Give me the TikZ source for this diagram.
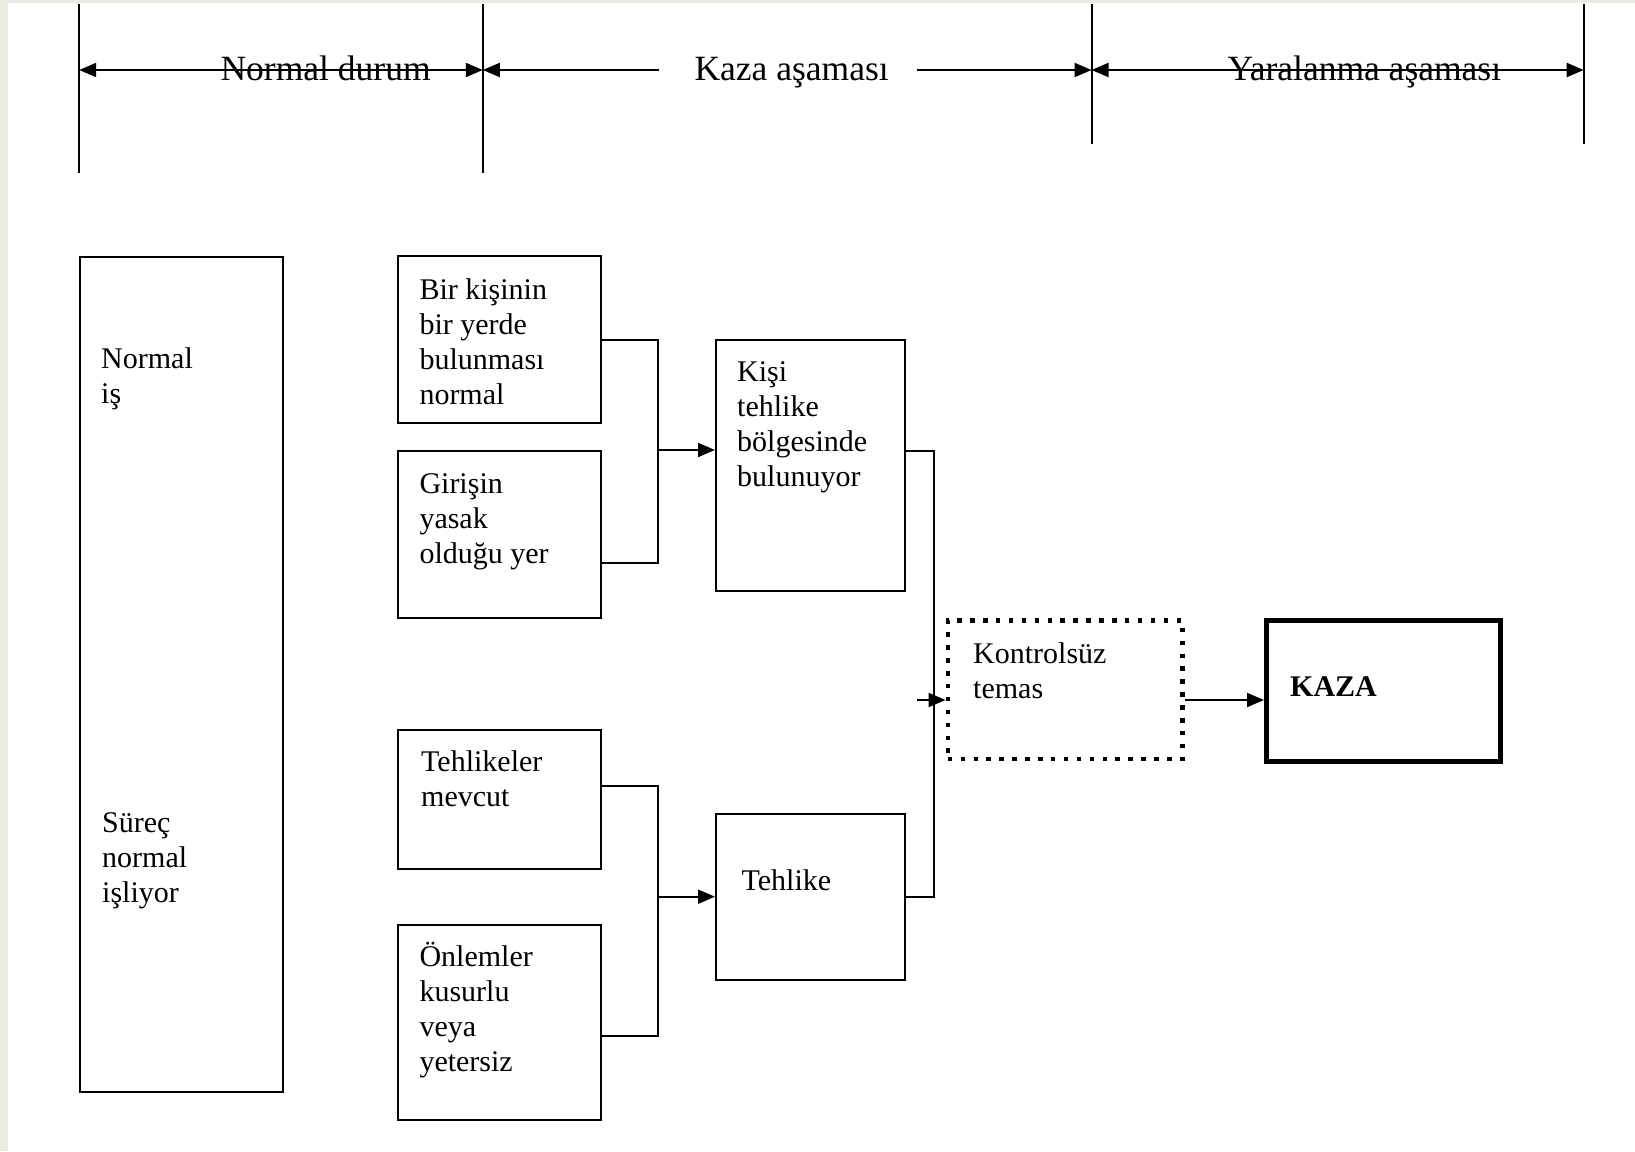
\documentclass[tikz,border=0pt]{standalone}
\usepackage{fontspec}
\setmainfont{Liberation Serif}
\usetikzlibrary{arrows.meta}
\definecolor{bgbeige}{RGB}{237,235,224}
\tikzset{
  ln/.style={line width=2pt, draw=black},
  box/.style={draw=black, line width=2pt, rectangle, inner sep=0pt, anchor=north west},
  txt/.style={inner sep=0pt, anchor=base west, align=left, font=\fontsize{30pt}{35pt}\selectfont},
  hdr/.style={inner sep=0pt, anchor=base, font=\fontsize{35.5pt}{40pt}\selectfont},
  tip/.style={-{Triangle[length=17pt,width=14pt]}},
  htip/.style={{Triangle[length=17pt,width=14pt]}-{Triangle[length=17pt,width=14pt]}},
  ltip/.style={{Triangle[length=17pt,width=14pt]}-},
  dotbox/.style={draw=black, line width=4.5pt, dash pattern=on 4.5pt off 8.4pt, rectangle, inner sep=0pt, anchor=north west},
  thickbox/.style={draw=black, line width=5pt, rectangle, inner sep=0pt, anchor=north west},
}
\begin{document}
\begin{tikzpicture}[x=1pt,y=-1pt]
\useasboundingbox (0,0) rectangle (1635,1151);
\fill[bgbeige] (0,0) rectangle (1635,1151);
\fill[white] (8.3,3) rectangle (1635,1151);

% phase boundary lines
\coordinate (v1t) at (79.2,3.5);   \coordinate (v1b) at (79.2,172.7);
\coordinate (v2t) at (482.8,3.5);  \coordinate (v2b) at (482.8,172.7);
\coordinate (v3t) at (1091.5,3.5); \coordinate (v3b) at (1091.5,144);
\coordinate (v4t) at (1583.7,3.5); \coordinate (v4b) at (1583.7,144);
\draw[ln] (v1t) -- (v1b);
\draw[ln] (v2t) -- (v2b);
\draw[ln] (v3t) -- (v3b);
\draw[ln] (v4t) -- (v4b);

% header arrows
\coordinate (h1) at (79.2,70);
\coordinate (h2) at (482.8,70);
\coordinate (h3) at (1091.5,70);
\coordinate (h4) at (1583.7,70);
\coordinate (kL) at (658.8,70);
\coordinate (kR) at (917,70);
\draw[ln,htip] (h1) -- (h2);
\draw[ln,ltip] (h2) -- (kL);
\draw[ln,tip] (kR) -- (h3);
\draw[ln,htip] (h3) -- (h4);
\node[hdr] (hN) at (325.6,80) {Normal durum};
\node[hdr] (hK) at (791.6,80) {Kaza aşaması};
\node[hdr] (hY) at (1364.4,80) {Yaralanma aşaması};

% boxes
\node[box, minimum width=202.5pt, minimum height=835.5pt] (N) at (79.2,255.5) {};
\node[box, minimum width=202.6pt, minimum height=167.3pt] (A) at (397,255) {};
\node[box, minimum width=202.6pt, minimum height=166.7pt] (B) at (397,450) {};
\node[box, minimum width=189pt, minimum height=251pt] (K) at (715,339) {};
\node[box, minimum width=202.6pt, minimum height=139pt] (C) at (397,729.3) {};
\node[box, minimum width=202.6pt, minimum height=194.7pt] (D) at (397,924.3) {};
\node[box, minimum width=189pt, minimum height=166.6pt] (T) at (715,812.7) {};
\node[dotbox, minimum width=234.5pt, minimum height=138.4pt] (U) at (945.5,618.3) {};
\node[thickbox, minimum width=234pt, minimum height=141pt] (Z) at (1264,618) {};

% texts (anchor = baseline of the last line)
\node[txt] (Nt1) at (101,403.3) {Normal\\iş};
\node[txt] (Nt2) at (102,902.7) {Süreç\\normal\\işliyor};
\node[txt] (At) at (419.3,404.3) {Bir kişinin\\bir yerde\\bulunması\\normal};
\node[txt] (Bt) at (419.3,563.3) {Girişin\\yasak\\olduğu yer};
\node[txt] (Kt) at (737,486.7) {Kişi\\tehlike\\bölgesinde\\bulunuyor};
\node[txt] (Ct) at (421,806.7) {Tehlikeler\\mevcut};
\node[txt] (Dt) at (419.3,1071.7) {Önlemler\\kusurlu\\veya\\yetersiz};
\node[txt] (Tt) at (741.4,890) {Tehlike};
\node[txt] (Ut) at (973,698.3) {Kontrolsüz\\temas};
\node[txt, font=\fontsize{30pt}{35pt}\selectfont\bfseries] (Zt) at (1290,696.7) {KAZA};

% connectors
\coordinate (j1) at (657.5,450);
\coordinate (j2) at (657.5,896.7);
\coordinate (j3) at (933.5,700);
\coordinate (s3) at (917,700);
\draw[ln] (A.east) -| (j1);
\draw[ln] ([yshift=-28.3pt]B.east) -| (j1);
\draw[ln,tip] (j1) -- (K.west |- j1);
\draw[ln] ([yshift=13.8pt]C.east) -| (j2);
\draw[ln] ([yshift=-13.3pt]D.east) -| (j2);
\draw[ln,tip] (j2) -- (T.west |- j2);
\draw[ln] ([yshift=14.5pt]K.east) -| (j3);
\draw[ln] (T.east) -| (j3);
\draw[ln,tip] (s3) -- (U.west |- s3);
\draw[ln,tip] (U.east |- s3) -- (Z.west |- s3);
\end{tikzpicture}
\end{document}
